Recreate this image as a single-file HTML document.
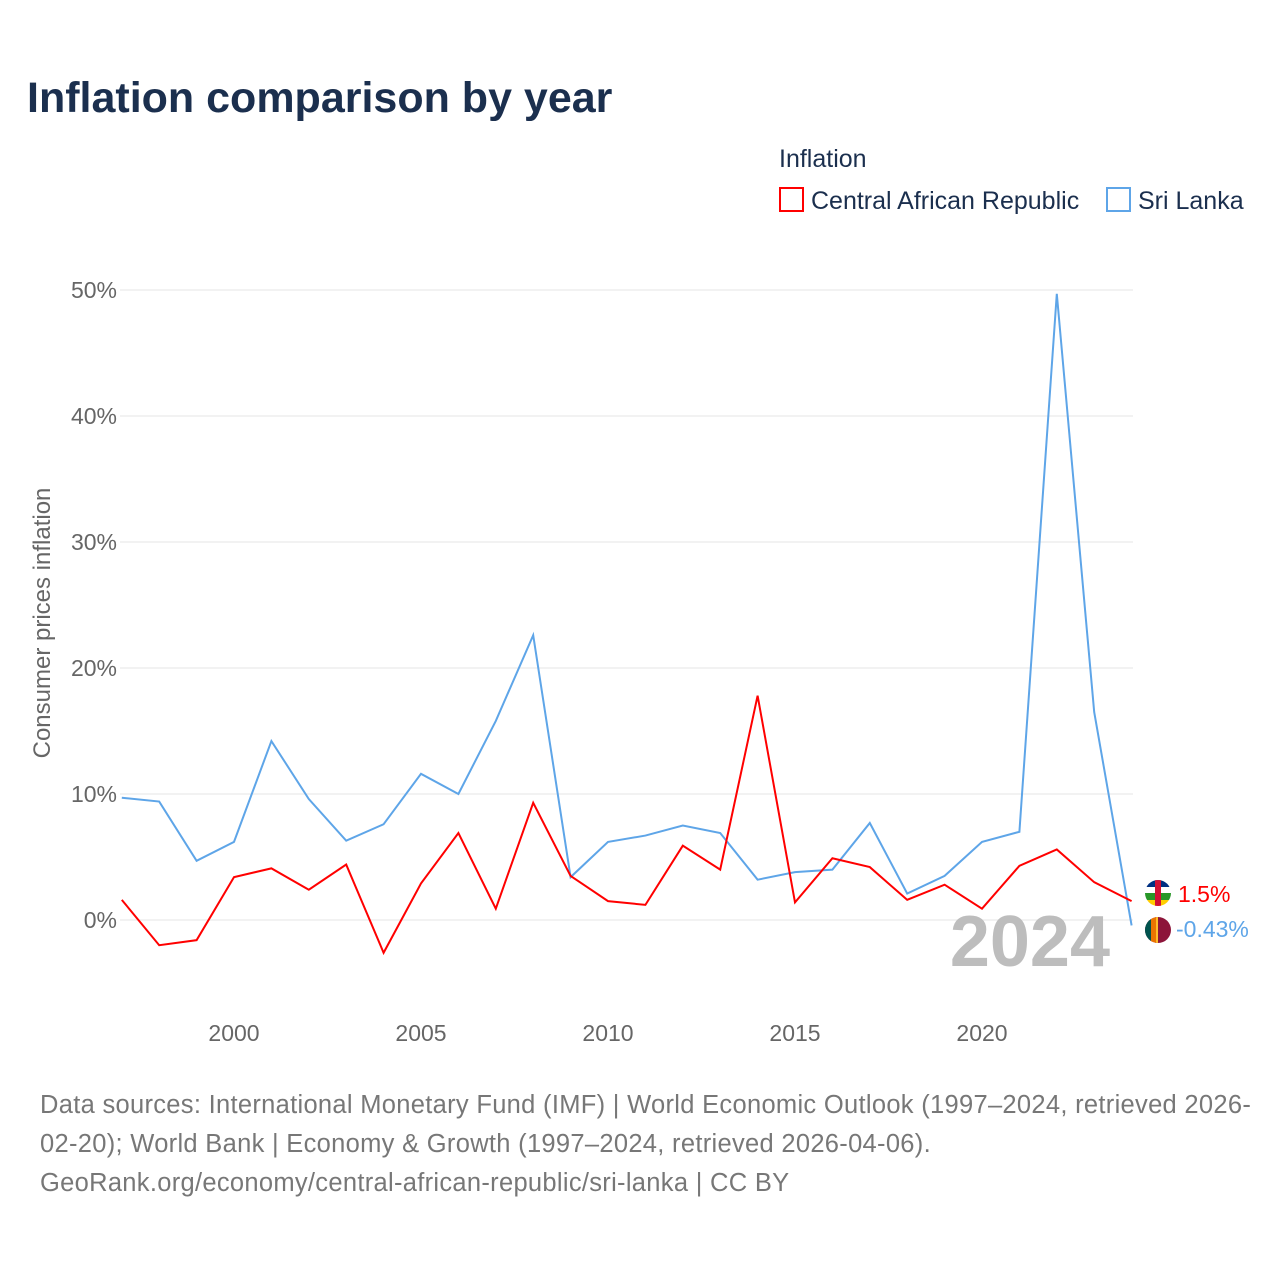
<!DOCTYPE html>
<html><head><meta charset="utf-8"><style>
body{margin:0;background:#fff;font-family:"Liberation Sans",sans-serif;}
#wrap{position:relative;width:1280px;height:1280px;overflow:hidden;}
</style></head><body>
<div id="wrap">
<svg id="chart" width="1280" height="1280">
<defs><clipPath id="c1"><circle cx="1158" cy="893" r="13"/></clipPath><clipPath id="c2"><circle cx="1158" cy="930" r="13"/></clipPath></defs>
<text x="27" y="112" font-size="43" font-weight="bold" fill="#1b2f4e">Inflation comparison by year</text>
<text x="779" y="167" font-size="25" fill="#1b2f4e">Inflation</text>
<g><rect x="780" y="188" width="23" height="23" fill="none" stroke="#ff0000" stroke-width="2"/><text x="811" y="209" font-size="25" fill="#1b2f4e">Central African Republic</text></g>
<g><rect x="1107" y="188" width="23" height="23" fill="none" stroke="#5ea5e8" stroke-width="2"/><text x="1138" y="209" font-size="25" fill="#1b2f4e">Sri Lanka</text></g>
<text transform="translate(50,623) rotate(-90)" text-anchor="middle" font-size="24" fill="#666">Consumer prices inflation</text>
<g id="grid"></g><g id="xt"></g>
<text x="1110" y="966" text-anchor="end" font-size="72" font-weight="bold" fill="#bdbdbd">2024</text>
<g id="lines"></g>
<g font-size="25.5" fill="#777" letter-spacing="0.3">
<text x="40" y="1113">Data sources: International Monetary Fund (IMF) | World Economic Outlook (1997–2024, retrieved 2026-</text>
<text x="40" y="1152">02-20); World Bank | Economy &amp; Growth (1997–2024, retrieved 2026-04-06).</text>
<text x="40" y="1191">GeoRank.org/economy/central-african-republic/sri-lanka | CC BY</text>
</g>
</svg></div>
<script>
const years=[1997,1998,1999,2000,2001,2002,2003,2004,2005,2006,2007,2008,2009,2010,2011,2012,2013,2014,2015,2016,2017,2018,2019,2020,2021,2022,2023,2024];
const carValues=[1.6,-2.0,-1.6,3.4,4.1,2.4,4.4,-2.6,2.9,6.9,0.9,9.3,3.5,1.5,1.2,5.9,4.0,17.8,1.4,4.9,4.2,1.6,2.8,0.9,4.3,5.6,3.0,1.5];
const lkaValues=[9.7,9.4,4.7,6.2,14.2,9.6,6.3,7.6,11.6,10.0,15.8,22.6,3.4,6.2,6.7,7.5,6.9,3.2,3.8,4.0,7.7,2.1,3.5,6.2,7.0,49.7,16.5,-0.43];
const yTicks=[0,10,20,30,40,50];
const xTicks=[2000,2005,2010,2015,2020];
const NS="http://www.w3.org/2000/svg";
const x=v=>121.8+(v-1997)*37.4;
const y=v=>920-v*12.6;
function mk(t,a,p){const e=document.createElementNS(NS,t);for(const k in a)e.setAttribute(k,a[k]);p.appendChild(e);return e;}
const grid=document.getElementById('grid');
yTicks.forEach(t=>{
 const l=mk('line',{x1:120,x2:1133,y1:y(t),y2:y(t),stroke:'#e6e6e6','stroke-width':1},grid);
 
 
 const tx=mk('text',{x:117,y:y(t)+8,'text-anchor':'end','font-size':23,fill:'#666'},grid);
 tx.textContent=t+'%';
 
 
});
const xt=document.getElementById('xt');
xTicks.forEach(t=>{
 const tx=mk('text',{x:x(t),y:1041,'text-anchor':'middle','font-size':23,fill:'#666'},xt);
 tx.textContent=t;
 
 
});
const lines=document.getElementById('lines');
function series(vals,color,name){
 const p=mk('polyline',{points:vals.map((v,i)=>x(years[i])+','+y(v)).join(' '),fill:'none',stroke:color,'stroke-width':2},lines);
 
 
}
series(lkaValues,'#5ea5e8','line-sri-lanka');
series(carValues,'#ff0000','line-car');
const last=years.length-1;
const g1=mk('g',{'clip-path':'url(#c1)'},lines);


mk('rect',{x:1145,y:880,width:26,height:7,fill:'#003082'},g1);
mk('rect',{x:1145,y:887,width:26,height:6,fill:'#ffffff'},g1);
mk('rect',{x:1145,y:893,width:26,height:7,fill:'#289728'},g1);
mk('rect',{x:1145,y:900,width:26,height:7,fill:'#ffce00'},g1);
mk('rect',{x:1155,y:880,width:6,height:26,fill:'#d21034'},g1);
const g2=mk('g',{'clip-path':'url(#c2)'},lines);


mk('rect',{x:1145,y:917,width:26,height:26,fill:'#8d153a'},g2);
mk('rect',{x:1145,y:917,width:6,height:26,fill:'#00534e'},g2);
mk('rect',{x:1151,y:917,width:5,height:26,fill:'#eb7400'},g2);
mk('rect',{x:1156,y:917,width:2,height:26,fill:'#ffbe29'},g2);
const l1=mk('text',{x:1178,y:902,'font-size':23,fill:'#ff0000'},lines);
l1.textContent=carValues[last]+'%';


const l2=mk('text',{x:1176,y:937,'font-size':23,fill:'#5ea5e8'},lines);
l2.textContent=lkaValues[last]+'%';


</script>
</body></html>
